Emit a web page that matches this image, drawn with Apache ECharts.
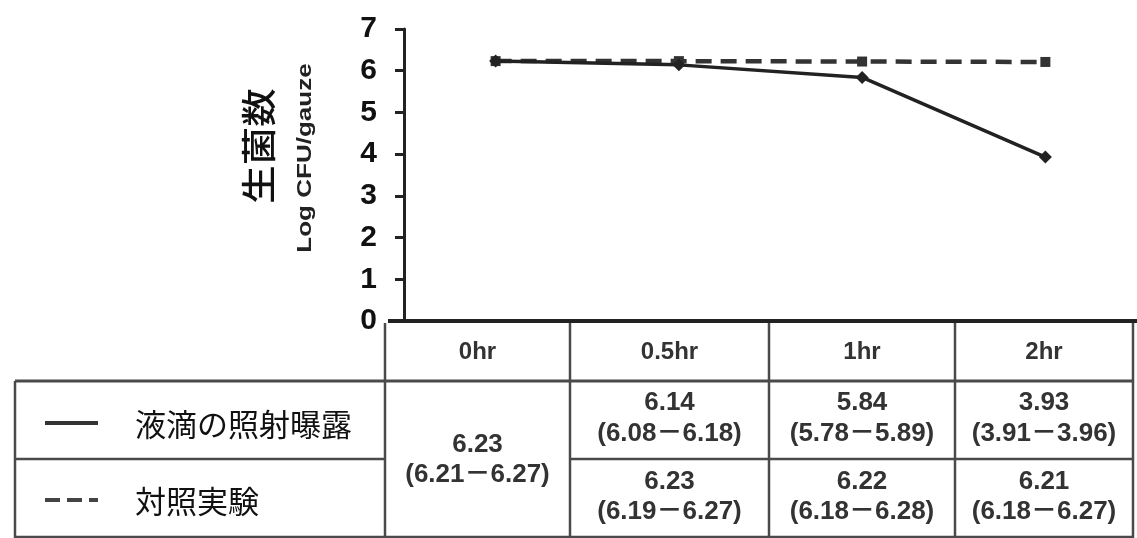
<!DOCTYPE html>
<html>
<head>
<meta charset="utf-8">
<script src="https://cdn.jsdelivr.net/npm/echarts@6/dist/echarts.min.js"></script>
<style>
html,body{margin:0;padding:0;background:#fff;}
#chart{width:1137px;height:538px;}
</style>
</head>
<body>
<div id="chart"></div>
<script>
// ---- data ----
var categories = ['0hr', '0.5hr', '1hr', '2hr'];
var dropletMean = [6.23, 6.14, 5.84, 3.93];
var dropletRange = ['6.21－6.27', '6.08－6.18', '5.78－5.89', '3.91－3.96'];
var controlMean = [6.23, 6.23, 6.22, 6.21];
var controlRange = ['6.21－6.27', '6.19－6.27', '6.18－6.28', '6.18－6.27'];
var seriesNames = ['液滴の照射曝露', '対照実験'];
var yTitle = '生菌数';
var yUnit = 'Log CFU/gauze';
var yTicks = [0, 1, 2, 3, 4, 5, 6, 7];

// ---- table layout ----
var colEdges = [385, 570, 769, 955, 1133];
var rowTop = 321, headBottom = 381, rowSplit = 459, rowBottom = 537;
var legLeft = 15;
var lineColor = '#4a4a4a';
var txtColor = '#333';
var numFont = 'bold 26px "Liberation Sans", Arial, "Noto Sans CJK JP", sans-serif';

function hline(x1, x2, y, w, c) {
  return {type: 'line', silent: true, shape: {x1: x1, y1: y, x2: x2, y2: y},
    style: {stroke: c || lineColor, lineWidth: w || 2.5}};
}
function vline(x, y1, y2, w, c) {
  return {type: 'line', silent: true, shape: {x1: x, y1: y1, x2: x, y2: y2},
    style: {stroke: c || lineColor, lineWidth: w || 2.5}};
}
function txt(s, x, y, font, color, align) {
  return {type: 'text', silent: true, x: x, y: y,
    style: {text: s, font: font, fill: color || txtColor,
      align: align || 'center', verticalAlign: 'middle',
      textAlign: align || 'center', textVerticalAlign: 'middle'}};
}

var g = [];
// borders
g.push(hline(388, 1137, rowTop, 4, '#222'));
g.push(hline(legLeft, colEdges[4], headBottom, 3));
g.push(hline(legLeft, colEdges[0], rowSplit, 2.5));
g.push(hline(colEdges[1], colEdges[4], rowSplit, 2.5));
g.push(hline(legLeft, colEdges[4], rowBottom, 2.5));
g.push(vline(legLeft, headBottom, 538));
for (var i = 0; i < colEdges.length; i++) g.push(vline(colEdges[i], rowTop + 2, 538));

// header and cells
for (var c = 0; c < categories.length; c++) {
  var cx = (colEdges[c] + colEdges[c + 1]) / 2;
  g.push(txt(categories[c], cx, 352, 'bold 24px "Liberation Sans", Arial, sans-serif'));
  if (c === 0) {
    g.push(txt(dropletMean[c].toFixed(2), cx, 445, numFont));
    g.push(txt('(' + dropletRange[c] + ')', cx, 475, numFont));
  } else {
    g.push(txt(dropletMean[c].toFixed(2), cx, 403, numFont));
    g.push(txt('(' + dropletRange[c] + ')', cx, 434, numFont));
    g.push(txt(controlMean[c].toFixed(2), cx, 482, numFont));
    g.push(txt('(' + controlRange[c] + ')', cx, 512, numFont));
  }
}

// legend in table
g.push({type: 'line', silent: true, shape: {x1: 45, y1: 423, x2: 98, y2: 423},
  style: {stroke: '#333', lineWidth: 4}});
g.push({type: 'line', silent: true, shape: {x1: 45, y1: 500, x2: 98, y2: 500},
  style: {stroke: '#444', lineWidth: 4, lineDash: [15, 7]}});
var cjkFont = '31px "Noto Sans CJK JP", sans-serif';
g.push(txt(seriesNames[0], 135, 424, cjkFont, '#111', 'left'));
g.push(txt(seriesNames[1], 135, 501, cjkFont, '#111', 'left'));

// y axis titles
var t1 = txt(yTitle, 259, 146, '500 35px "Noto Sans CJK JP", sans-serif', '#111');
t1.rotation = Math.PI / 2; t1.scaleX = 1.1;
g.push(t1);
var t2 = txt(yUnit, 305, 158, 'bold 21px "Liberation Sans", Arial, sans-serif', '#222');
t2.rotation = Math.PI / 2; t2.scaleX = 1.24;
g.push(t2);

var chart = echarts.init(document.getElementById('chart'), null, {renderer: 'canvas'});
chart.setOption({
  animation: false,
  backgroundColor: '#fff',
  grid: {left: 404, top: 29, width: 735, height: 292},
  xAxis: {
    type: 'category', data: categories, boundaryGap: true,
    axisLine: {show: false}, axisTick: {show: false}, axisLabel: {show: false}
  },
  yAxis: {
    type: 'value', min: yTicks[0], max: yTicks[yTicks.length - 1], interval: 1,
    axisLine: {show: true, lineStyle: {color: '#222', width: 3}},
    axisTick: {show: true, inside: false, length: 9, lineStyle: {color: '#222', width: 3}},
    axisLabel: {margin: 27, color: '#111', fontSize: 30, fontWeight: 'bold',
      fontFamily: '"Liberation Sans", Arial, sans-serif'},
    splitLine: {show: false}
  },
  series: [
    {
      name: seriesNames[1], type: 'line', data: controlMean,
      symbol: 'rect', symbolSize: 10,
      lineStyle: {color: '#333', width: 4.5, type: [16, 9]},
      itemStyle: {color: '#333'}, z: 2
    },
    {
      name: seriesNames[0], type: 'line', data: dropletMean,
      symbol: 'diamond', symbolSize: 13,
      lineStyle: {color: '#222', width: 3.5},
      itemStyle: {color: '#222'}, z: 3
    }
  ],
  graphic: g
});
</script>
</body>
</html>
